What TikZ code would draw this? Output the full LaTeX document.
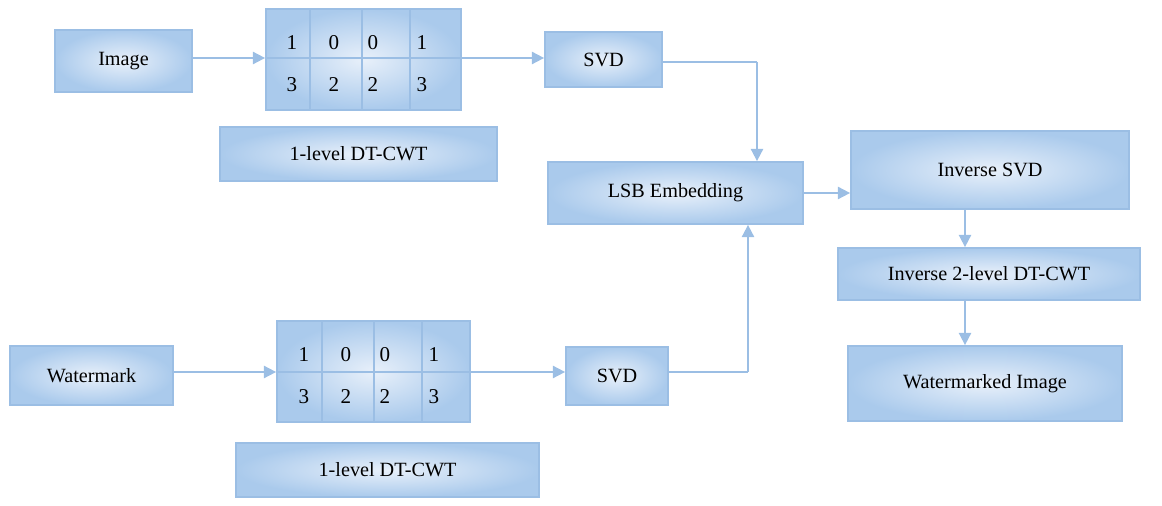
\documentclass[tikz,border=0pt]{standalone}
\usepackage{fontspec}
\setmainfont{Liberation Serif}
\usetikzlibrary{arrows.meta}
\definecolor{edge}{RGB}{155,190,228}
\definecolor{inner}{RGB}{232,240,250}
\definecolor{outer}{RGB}{170,202,236}
\tikzset{
  box/.style={draw=edge,line width=1pt,shading=radial,inner color=inner,outer color=outer,font=\fontsize{11.5}{14}\selectfont,inner sep=0pt},
  arr/.style={draw=edge,line width=1pt,-{Triangle[length=7pt,width=7pt]}},
  ln/.style={draw=edge,line width=1pt},
  num/.style={font=\fontsize{12}{14}\selectfont}
}
\newcommand{\bx}[6]{\node[box,minimum width=#4*0.02cm,minimum height=#5*0.02cm] (#1) at (#2,#3) {#6};}
\begin{document}
\begin{tikzpicture}[x=0.02cm,y=-0.02cm]
\useasboundingbox (0,0) rectangle (1162,506);
% top
\bx{img}{123.5}{61}{137}{62}{Image}
\bx{g1}{363.5}{59.5}{195}{101}{}
\bx{d1}{358.5}{154}{277}{54}{1-level DT-CWT}
\bx{s1}{603.5}{59.5}{117}{55}{SVD}
\bx{lsb}{675.5}{193}{255}{62}{LSB Embedding}
\bx{isvd}{990}{170}{278}{78}{Inverse SVD}
\bx{idt}{989}{274}{302}{52}{Inverse 2-level DT-CWT}
\bx{wmi}{985}{383.5}{274}{75}{Watermarked Image}
% bottom
\bx{wm}{91.5}{375.5}{163}{59}{Watermark}
\bx{g2}{373.5}{371.5}{193}{101}{}
\bx{d2}{387.5}{470}{303}{54}{1-level DT-CWT}
\bx{s2}{617}{376}{102}{58}{SVD}
% grid lines
\draw[ln] (g1.west |- 0,58) -- (g1.east |- 0,58);
\foreach \c in {310,362,410} \draw[ln] (\c,9) -- (\c,110);
\draw[ln] (g2.west |- 0,372) -- (g2.east |- 0,372);
\foreach \c in {322,374,422} \draw[ln] (\c,321) -- (\c,422);
% numbers
\foreach \x/\a/\b [count=\i] in {292/1/3,334/0/2,373/0/2,422/1/3}{
  \node[num] (ta\i) at (\x,43) {\a};
  \node[num] (tb\i) at (\x,85) {\b};
}
\foreach \x/\a/\b [count=\i] in {304/1/3,346/0/2,385/0/2,434/1/3}{
  \node[num] (ba\i) at (\x,355) {\a};
  \node[num] (bb\i) at (\x,397) {\b};
}
% connectors
\coordinate (c1) at (757,62);
\coordinate (c2) at (748,372);
\draw[arr] (img.east |- 0,58) -- (g1.west |- 0,58);
\draw[arr] (g1.east |- 0,58) -- (s1.west |- 0,58);
\draw[ln] (s1.east |- c1) -- (c1);
\draw[arr] (c1) -- (c1 |- lsb.north);
\draw[arr] (wm.east |- 0,372) -- (g2.west |- 0,372);
\draw[arr] (g2.east |- 0,372) -- (s2.west |- 0,372);
\draw[ln] (s2.east |- c2) -- (c2);
\draw[arr] (c2) -- (c2 |- lsb.south);
\draw[arr] (lsb.east |- 0,193) -- (isvd.west |- 0,193);
\draw[arr] (isvd.south -| 965,0) -- (idt.north -| 965,0);
\draw[arr] (idt.south -| 965,0) -- (wmi.north -| 965,0);
\end{tikzpicture}
\end{document}
